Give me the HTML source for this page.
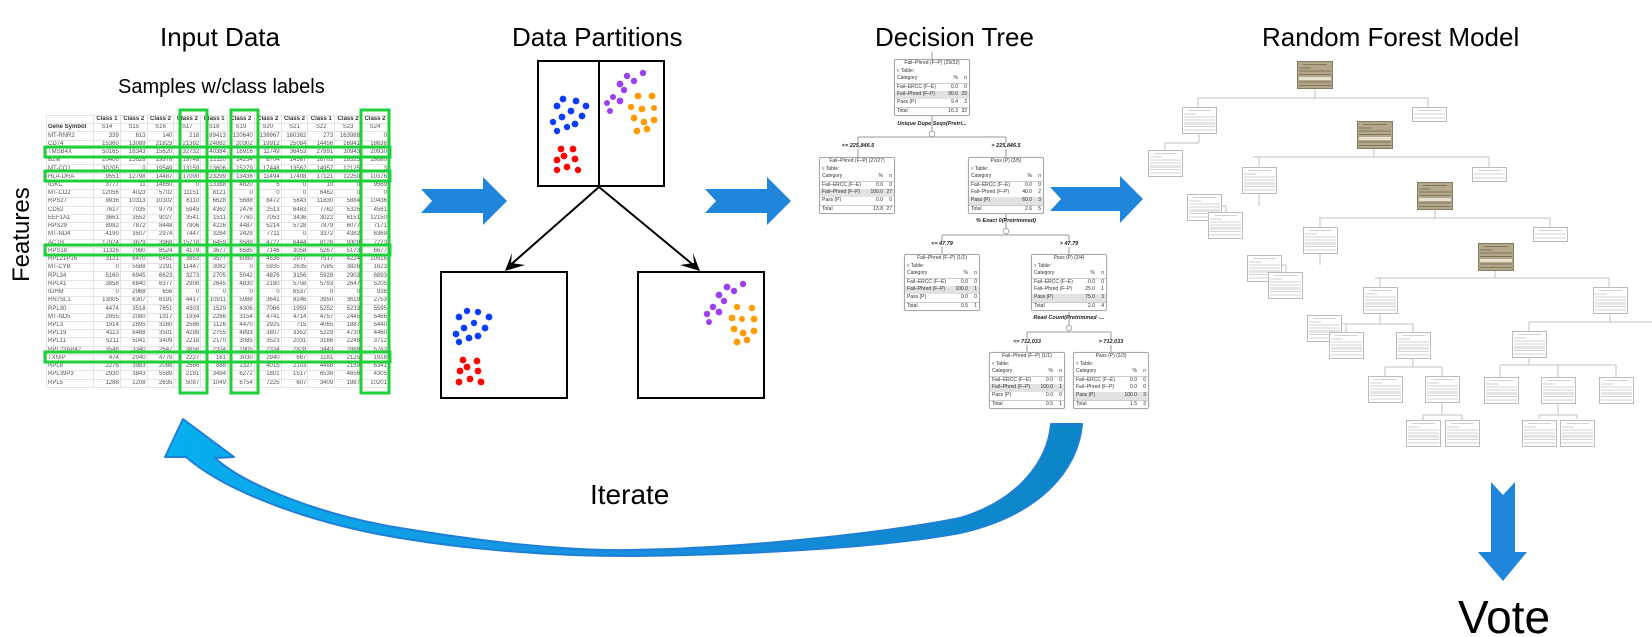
<!DOCTYPE html>
<html><head><meta charset="utf-8"><style>
html,body{margin:0;padding:0;background:#fff;}
#c{position:relative;width:1652px;height:637px;overflow:hidden;font-family:"Liberation Sans",Arial,sans-serif;}
.t{position:absolute;white-space:nowrap;color:#000;}
#tbl{position:absolute;left:46px;top:115px;width:342px;border-collapse:collapse;table-layout:fixed;font-size:6px;color:#555;}
#tbl td{height:7.24px;line-height:7px;padding:0 1px;border:1px solid #e4e4e4;text-align:right;overflow:hidden;white-space:nowrap;}
#tbl td:first-child{text-align:left;}
#tbl tr.h td{font-weight:bold;text-align:center;color:#333}
#tbl tr.h2 td{text-align:center;}
#tbl tr.h2 td:first-child{font-weight:bold;color:#333;text-align:left}
.n{position:absolute;width:74px;height:55px;border:1px solid #a8a8a8;border-radius:2px;background:#fff;font-size:5px;line-height:7.6px;color:#333;box-shadow:0 0 1px #ccc;}
.n div{position:relative;height:7.6px;padding:0 2px;}
.n .ti{text-align:center;}
.n .r span{position:absolute;right:2px;}
.n .r b{position:absolute;right:11px;font-weight:normal;}
.n .hl{background:#e2e2e2;}
.n .tt{border-top:1px solid #ccc;}
.lb{position:absolute;font-size:5.5px;font-weight:bold;font-style:italic;color:#222;white-space:nowrap;transform:translateX(-50%);}
</style></head><body><div id="c">

<div class="t" style="left:160px;top:22px;font-size:26px;">Input Data</div>
<div class="t" style="left:118px;top:76px;font-size:20px;">Samples w/class labels</div>
<div class="t" style="left:10px;top:233px;font-size:24px;transform:rotate(-90deg);transform-origin:center;width:70px;margin-left:-23px;">Features</div>
<div class="t" style="left:512px;top:22px;font-size:26px;">Data Partitions</div>
<div class="t" style="left:875px;top:22px;font-size:26px;">Decision Tree</div>
<div class="t" style="left:1262px;top:22px;font-size:26px;">Random Forest Model</div>
<div class="t" style="left:590px;top:479px;font-size:28px;">Iterate</div>

<table id="tbl">
<colgroup><col style="width:47px"><col style="width:26.8px"><col style="width:26.8px"><col style="width:26.8px"><col style="width:26.8px"><col style="width:26.8px"><col style="width:26.8px"><col style="width:26.8px"><col style="width:26.8px"><col style="width:26.8px"><col style="width:26.8px"><col style="width:27px"></colgroup>
<tr class="h"><td></td><td>Class 1</td><td>Class 2</td><td>Class 2</td><td>Class 2</td><td>Class 1</td><td>Class 2</td><td>Class 2</td><td>Class 2</td><td>Class 1</td><td>Class 2</td><td>Class 2</td></tr>
<tr class="h2"><td>Gene Symbol</td><td>S14</td><td>S15</td><td>S16</td><td>S17</td><td>S18</td><td>S19</td><td>S20</td><td>S21</td><td>S22</td><td>S23</td><td>S24</td></tr>
<tr><td>MT-RNR2</td><td>339</td><td>613</td><td>140</td><td>218</td><td>89413</td><td>120640</td><td>139967</td><td>160362</td><td>273</td><td>163988</td><td>0</td></tr>
<tr><td>CD74</td><td>15360</td><td>13089</td><td>21823</td><td>21392</td><td>24882</td><td>20302</td><td>19912</td><td>25084</td><td>14456</td><td>16941</td><td>18638</td></tr>
<tr><td>TMSB4X</td><td>50165</td><td>18343</td><td>15620</td><td>32732</td><td>40384</td><td>16916</td><td>11749</td><td>36453</td><td>27991</td><td>30943</td><td>20930</td></tr>
<tr><td>B2M</td><td>20406</td><td>15628</td><td>19978</td><td>19748</td><td>22110</td><td>14254</td><td>8704</td><td>14587</td><td>16703</td><td>19325</td><td>18680</td></tr>
<tr><td>MT-CO1</td><td>30205</td><td>0</td><td>19549</td><td>13159</td><td>13606</td><td>15279</td><td>17448</td><td>13562</td><td>14957</td><td>12125</td><td>3</td></tr>
<tr><td>HLA-DRA</td><td>9551</td><td>12798</td><td>14487</td><td>17090</td><td>23299</td><td>13436</td><td>11494</td><td>17408</td><td>17121</td><td>12250</td><td>10376</td></tr>
<tr><td>IGKC</td><td>3777</td><td>11</td><td>14850</td><td>0</td><td>13388</td><td>4820</td><td>5</td><td>0</td><td>10</td><td>0</td><td>9569</td></tr>
<tr><td>MT-CO2</td><td>12056</td><td>4023</td><td>5702</td><td>11151</td><td>8121</td><td>0</td><td>0</td><td>0</td><td>6462</td><td>0</td><td>0</td></tr>
<tr><td>RPS27</td><td>9936</td><td>10313</td><td>10302</td><td>6110</td><td>6628</td><td>5688</td><td>8472</td><td>5843</td><td>11830</td><td>5884</td><td>10436</td></tr>
<tr><td>CD52</td><td>7617</td><td>7035</td><td>9779</td><td>5945</td><td>4362</td><td>2476</td><td>2513</td><td>6463</td><td>7762</td><td>5325</td><td>4561</td></tr>
<tr><td>EEF1A1</td><td>3661</td><td>3552</td><td>9027</td><td>3541</td><td>1511</td><td>7760</td><td>7053</td><td>3436</td><td>3022</td><td>6151</td><td>12150</td></tr>
<tr><td>RPS29</td><td>8982</td><td>7872</td><td>8448</td><td>7906</td><td>4226</td><td>4487</td><td>5214</td><td>5728</td><td>7879</td><td>6077</td><td>7171</td></tr>
<tr><td>MT-ND4</td><td>4190</td><td>3507</td><td>2974</td><td>7447</td><td>3284</td><td>2429</td><td>7711</td><td>0</td><td>3372</td><td>4382</td><td>6369</td></tr>
<tr><td>ACTB</td><td>17824</td><td>3629</td><td>3968</td><td>15718</td><td>6459</td><td>8588</td><td>4727</td><td>6444</td><td>8128</td><td>9309</td><td>7223</td></tr>
<tr><td>RPS18</td><td>11326</td><td>7980</td><td>8524</td><td>4179</td><td>3677</td><td>6585</td><td>7146</td><td>3058</td><td>5267</td><td>5173</td><td>6677</td></tr>
<tr><td>RPL21P16</td><td>3121</td><td>6470</td><td>6451</td><td>3853</td><td>3577</td><td>6080</td><td>4536</td><td>2977</td><td>7517</td><td>4224</td><td>10916</td></tr>
<tr><td>MT-CYB</td><td>0</td><td>5588</td><td>2291</td><td>11447</td><td>3082</td><td>0</td><td>5935</td><td>2635</td><td>7585</td><td>3826</td><td>1623</td></tr>
<tr><td>RPL34</td><td>5160</td><td>6945</td><td>6623</td><td>3273</td><td>2705</td><td>5042</td><td>4876</td><td>3156</td><td>5928</td><td>2903</td><td>6893</td></tr>
<tr><td>RPL41</td><td>3858</td><td>6840</td><td>6377</td><td>2908</td><td>2645</td><td>4830</td><td>2180</td><td>5758</td><td>5793</td><td>2647</td><td>5205</td></tr>
<tr><td>IGHM</td><td>0</td><td>2968</td><td>656</td><td>0</td><td>0</td><td>0</td><td>0</td><td>6537</td><td>0</td><td>0</td><td>936</td></tr>
<tr><td>RN7SL1</td><td>13005</td><td>6307</td><td>6191</td><td>4417</td><td>10911</td><td>5988</td><td>3641</td><td>8246</td><td>3950</td><td>3619</td><td>2753</td></tr>
<tr><td>RPL30</td><td>4474</td><td>3518</td><td>7651</td><td>4303</td><td>1529</td><td>4306</td><td>7066</td><td>1959</td><td>5252</td><td>5233</td><td>5595</td></tr>
<tr><td>MT-ND5</td><td>2855</td><td>2080</td><td>1917</td><td>1934</td><td>2266</td><td>3154</td><td>4741</td><td>4714</td><td>4757</td><td>2445</td><td>5466</td></tr>
<tr><td>RPL3</td><td>1914</td><td>2895</td><td>3160</td><td>2586</td><td>1126</td><td>4470</td><td>2925</td><td>715</td><td>4065</td><td>1887</td><td>5440</td></tr>
<tr><td>RPL19</td><td>4113</td><td>6488</td><td>3501</td><td>4298</td><td>2755</td><td>4893</td><td>3807</td><td>3352</td><td>5229</td><td>4730</td><td>4460</td></tr>
<tr><td>RPL11</td><td>5211</td><td>5041</td><td>3409</td><td>2218</td><td>2170</td><td>3085</td><td>3523</td><td>2031</td><td>3166</td><td>2246</td><td>3712</td></tr>
<tr><td>RPL23AP42</td><td>3548</td><td>3340</td><td>2647</td><td>3856</td><td>2334</td><td>1905</td><td>2334</td><td>2828</td><td>3443</td><td>2888</td><td>5763</td></tr>
<tr><td>TXNIP</td><td>474</td><td>2040</td><td>4779</td><td>2227</td><td>161</td><td>3030</td><td>2940</td><td>667</td><td>1181</td><td>2125</td><td>1918</td></tr>
<tr><td>RPL8</td><td>2276</td><td>3983</td><td>2088</td><td>2566</td><td>888</td><td>1327</td><td>4015</td><td>2103</td><td>4488</td><td>2159</td><td>6341</td></tr>
<tr><td>RPL39P3</td><td>2930</td><td>3843</td><td>5589</td><td>2181</td><td>3494</td><td>6272</td><td>1801</td><td>1517</td><td>6538</td><td>4656</td><td>4305</td></tr>
<tr><td>RPL5</td><td>1288</td><td>1208</td><td>2635</td><td>5087</td><td>1049</td><td>6754</td><td>7225</td><td>607</td><td>3409</td><td>1987</td><td>10201</td></tr>
</table>

<svg width="1652" height="637" style="position:absolute;left:0;top:0" xmlns="http://www.w3.org/2000/svg">
<defs>
<linearGradient id="ag" x1="0" y1="0" x2="1" y2="0"><stop offset="0" stop-color="#06b0ee"/><stop offset="0.5" stop-color="#1a8ee0"/><stop offset="1" stop-color="#0a86c6"/></linearGradient>
<g id="fb"><rect x="0.5" y="0.5" width="34" height="26" fill="#fff" stroke="#bbb"/><rect x="2" y="15" width="31" height="3" fill="#e4e4e4"/><g stroke="#c4c4c4" stroke-width="0.8"><line x1="6" y1="3.5" x2="29" y2="3.5"/><line x1="2" y1="7" x2="14" y2="7"/><line x1="2" y1="10" x2="33" y2="10"/><line x1="2" y1="13" x2="33" y2="13"/><line x1="2" y1="19.5" x2="33" y2="19.5"/><line x1="2" y1="23" x2="33" y2="23"/></g></g>
<g id="fs"><rect x="0.5" y="0.5" width="34" height="14" fill="#fff" stroke="#bbb"/><g stroke="#c4c4c4" stroke-width="0.8"><line x1="6" y1="3.5" x2="29" y2="3.5"/><line x1="2" y1="7" x2="33" y2="7"/><line x1="2" y1="11" x2="33" y2="11"/></g></g>
<g id="ft"><rect x="0.5" y="0.5" width="35" height="27" fill="#b4a88a" stroke="#857a62"/><rect x="2" y="16" width="32" height="3" fill="#e6e1d2"/><g stroke="#6f6652" stroke-width="0.8"><line x1="6" y1="3.5" x2="30" y2="3.5"/><line x1="2" y1="7" x2="14" y2="7"/><line x1="2" y1="10" x2="34" y2="10"/><line x1="2" y1="13.5" x2="34" y2="13.5"/><line x1="2" y1="21" x2="34" y2="21"/><line x1="2" y1="24.5" x2="34" y2="24.5"/></g></g>
</defs>

<!-- green highlights -->
<g fill="none" stroke="#1ed03a" stroke-width="3">
<rect x="180" y="110" width="27" height="283"/>
<rect x="231" y="110" width="27" height="283"/>
<rect x="361" y="110" width="28" height="283"/>
<rect x="45" y="147" width="345" height="10"/>
<rect x="45" y="171" width="345" height="10"/>
<rect x="45" y="245" width="345" height="10"/>
<rect x="45" y="352" width="345" height="10"/>
</g>

<!-- blue chevron arrows -->
<g fill="#1f86dc">
<polygon points="421,189 483,189 483,177 507,201 483,225 483,213 421,213 432,201"/>
<polygon points="705,189 767,189 767,177 791,201 767,225 767,213 705,213 716,201"/>
<polygon points="1050,187 1120,187 1120,176 1143,199 1120,223 1120,211 1050,211 1061,199"/>
<polygon points="1491,482 1503,495 1515,482 1515,552 1527,552 1503,581 1478,552 1491,552"/>
</g>

<!-- partitions -->
<g fill="none" stroke="#000" stroke-width="2">
<rect x="538" y="61" width="126" height="125"/>
<line x1="599" y1="61" x2="599" y2="186"/>
<rect x="441" y="272" width="126" height="126"/>
<rect x="638" y="272" width="126" height="126"/>
<line x1="599" y1="187" x2="507" y2="268"/>
<line x1="599" y1="187" x2="697" y2="268"/>
</g>
<polygon points="505,271 512,253 511,263 525,265" fill="#000"/>
<polygon points="700,271 693,253 694,263 680,265" fill="#000"/>
<g fill="#0a3cff">
<circle cx="563" cy="99" r="3.4"/><circle cx="576" cy="101" r="3.4"/><circle cx="586" cy="106" r="3.4"/><circle cx="557" cy="106" r="3.4"/><circle cx="571" cy="111" r="3.4"/><circle cx="562" cy="117" r="3.4"/><circle cx="582" cy="116" r="3.4"/><circle cx="553" cy="122" r="3.2"/><circle cx="575" cy="124" r="3.4"/><circle cx="567" cy="127" r="3.2"/><circle cx="557" cy="131" r="3.2"/>
<circle cx="459" cy="317" r="3.4"/><circle cx="467" cy="311" r="3.2"/><circle cx="478" cy="312" r="3.2"/><circle cx="489" cy="317" r="3.4"/><circle cx="464" cy="328" r="3.4"/><circle cx="474" cy="323" r="3.2"/><circle cx="485" cy="328" r="3.4"/><circle cx="456" cy="334" r="3.4"/><circle cx="469" cy="338" r="3.4"/><circle cx="478" cy="336" r="3.4"/><circle cx="459" cy="342" r="3.2"/>
</g>
<g fill="#ff0000">
<circle cx="561" cy="149" r="3.4"/><circle cx="573" cy="149" r="3.4"/><circle cx="564" cy="156" r="3.4"/><circle cx="557" cy="160" r="3.4"/><circle cx="575" cy="159" r="3.4"/><circle cx="567" cy="167" r="3.4"/><circle cx="557" cy="170" r="3.2"/><circle cx="578" cy="170" r="3.2"/>
<circle cx="463" cy="360" r="3.4"/><circle cx="477" cy="361" r="3.4"/><circle cx="467" cy="367" r="3.4"/><circle cx="460" cy="371" r="3.4"/><circle cx="478" cy="371" r="3.4"/><circle cx="470" cy="379" r="3.4"/><circle cx="459" cy="382" r="3.4"/><circle cx="481" cy="382" r="3.4"/>
</g>
<g fill="#9b40f0">
<circle cx="627" cy="76" r="3.2"/><circle cx="643" cy="73" r="3.2"/><circle cx="634" cy="81" r="3.2"/><circle cx="620" cy="84" r="3.4"/><circle cx="624" cy="90" r="3.2"/><circle cx="613" cy="97" r="3"/><circle cx="620" cy="101" r="3.4"/><circle cx="607" cy="103" r="3"/><circle cx="610" cy="111" r="3"/>
<circle cx="727" cy="287" r="3.4"/><circle cx="743" cy="284" r="3.2"/><circle cx="734" cy="291" r="3.2"/><circle cx="719" cy="295" r="3.4"/><circle cx="724" cy="301" r="3.2"/><circle cx="713" cy="307" r="3.2"/><circle cx="719" cy="312" r="3.4"/><circle cx="707" cy="314" r="3.2"/><circle cx="709" cy="322" r="3"/>
</g>
<g fill="#ff9a00">
<circle cx="638" cy="96" r="3.4"/><circle cx="652" cy="96" r="3.4"/><circle cx="631" cy="107" r="3.2"/><circle cx="642" cy="109" r="3.4"/><circle cx="654" cy="108" r="3"/><circle cx="634" cy="118" r="3.4"/><circle cx="644" cy="122" r="3.4"/><circle cx="654" cy="120" r="3.4"/><circle cx="637" cy="131" r="3.4"/><circle cx="647" cy="129" r="3.4"/>
<circle cx="737" cy="307" r="3.2"/><circle cx="752" cy="308" r="3.2"/><circle cx="732" cy="318" r="3.4"/><circle cx="742" cy="319" r="3"/><circle cx="754" cy="319" r="3.4"/><circle cx="734" cy="329" r="3.4"/><circle cx="743" cy="333" r="3.4"/><circle cx="754" cy="331" r="3.4"/><circle cx="737" cy="342" r="3.4"/><circle cx="747" cy="340" r="3.4"/>
</g>

<!-- decision tree connectors -->
<g stroke="#9a9a9a" stroke-width="1" fill="none">
<line x1="932" y1="52" x2="932" y2="59"/>
<line x1="932" y1="116" x2="932" y2="137"/><line x1="858" y1="137" x2="1006" y2="137"/>
<line x1="858" y1="137" x2="858" y2="157"/><line x1="1006" y1="137" x2="1006" y2="157"/>
<line x1="1006" y1="214" x2="1006" y2="235"/><line x1="942" y1="235" x2="1069" y2="235"/>
<line x1="942" y1="235" x2="942" y2="254"/><line x1="1069" y1="235" x2="1069" y2="254"/>
<line x1="1069" y1="312" x2="1069" y2="332"/><line x1="1027" y1="332" x2="1111" y2="332"/>
<line x1="1027" y1="332" x2="1027" y2="352"/><line x1="1111" y1="332" x2="1111" y2="352"/>
</g>
<g fill="#fff" stroke="#999" stroke-width="0.8">
<circle cx="932" cy="134" r="2.8"/><circle cx="1006" cy="231" r="2.8"/><circle cx="1069" cy="328" r="2.8"/>
</g>

<!-- forest connectors -->
<g stroke="#c2c2c2" stroke-width="1" fill="none">
<line x1="1315" y1="88" x2="1315" y2="98"/><line x1="1198" y1="98" x2="1428" y2="98"/><line x1="1198" y1="98" x2="1198" y2="107"/><line x1="1428" y1="98" x2="1428" y2="107"/>
<line x1="1199" y1="133" x2="1199" y2="143"/><line x1="1165" y1="143" x2="1199" y2="143"/><line x1="1165" y1="143" x2="1165" y2="150"/>
<line x1="1374" y1="148" x2="1374" y2="157"/><line x1="1253" y1="157" x2="1489" y2="157"/><line x1="1259" y1="157" x2="1259" y2="167"/><line x1="1489" y1="157" x2="1489" y2="167"/>
<line x1="1259" y1="193" x2="1259" y2="206"/><line x1="1197" y1="206" x2="1226" y2="206"/><line x1="1226" y1="206" x2="1226" y2="212"/>
<line x1="1435" y1="209" x2="1435" y2="218"/><line x1="1319" y1="218" x2="1550" y2="218"/><line x1="1320" y1="218" x2="1320" y2="227"/><line x1="1550" y1="218" x2="1550" y2="227"/>
<line x1="1320" y1="253" x2="1320" y2="265"/><line x1="1257" y1="265" x2="1286" y2="265"/><line x1="1286" y1="265" x2="1286" y2="272"/>
<line x1="1495" y1="269" x2="1495" y2="278"/><line x1="1375" y1="278" x2="1609" y2="278"/><line x1="1380" y1="278" x2="1380" y2="287"/><line x1="1609" y1="278" x2="1609" y2="287"/>
<line x1="1380" y1="313" x2="1380" y2="324"/><line x1="1318" y1="324" x2="1413" y2="324"/><line x1="1346" y1="324" x2="1346" y2="332"/><line x1="1413" y1="324" x2="1413" y2="332"/>
<line x1="1610" y1="313" x2="1610" y2="322"/><line x1="1529" y1="322" x2="1652" y2="322"/><line x1="1529" y1="322" x2="1529" y2="331"/>
<line x1="1413" y1="358" x2="1413" y2="367"/><line x1="1385" y1="367" x2="1442" y2="367"/><line x1="1385" y1="367" x2="1385" y2="376"/><line x1="1442" y1="367" x2="1442" y2="376"/>
<line x1="1529" y1="358" x2="1529" y2="365"/><line x1="1500" y1="365" x2="1616" y2="365"/><line x1="1500" y1="365" x2="1500" y2="377"/><line x1="1558" y1="365" x2="1558" y2="377"/><line x1="1616" y1="365" x2="1616" y2="377"/>
<line x1="1442" y1="403" x2="1442" y2="415"/><line x1="1423" y1="415" x2="1462" y2="415"/><line x1="1423" y1="415" x2="1423" y2="420"/><line x1="1462" y1="415" x2="1462" y2="420"/>
<line x1="1558" y1="403" x2="1558" y2="415"/><line x1="1539" y1="415" x2="1577" y2="415"/><line x1="1539" y1="415" x2="1539" y2="419"/><line x1="1577" y1="415" x2="1577" y2="419"/>
</g>
<g>
<use href="#ft" x="1297" y="61"/><use href="#ft" x="1357" y="121"/><use href="#ft" x="1417" y="182"/><use href="#ft" x="1478" y="243"/>
<use href="#fs" x="1412" y="107"/><use href="#fs" x="1472" y="167"/><use href="#fs" x="1533" y="227"/>
<use href="#fb" x="1182" y="107"/><use href="#fb" x="1148" y="150"/><use href="#fb" x="1242" y="167"/><use href="#fb" x="1187" y="194"/><use href="#fb" x="1208" y="212"/>
<use href="#fb" x="1303" y="227"/><use href="#fb" x="1247" y="255"/><use href="#fb" x="1268" y="272"/>
<use href="#fb" x="1363" y="287"/><use href="#fb" x="1593" y="287"/><use href="#fb" x="1307" y="315"/><use href="#fb" x="1329" y="332"/><use href="#fb" x="1396" y="332"/><use href="#fb" x="1512" y="331"/>
<use href="#fb" x="1368" y="376"/><use href="#fb" x="1425" y="376"/><use href="#fb" x="1484" y="377"/><use href="#fb" x="1541" y="377"/><use href="#fb" x="1599" y="377"/>
<use href="#fb" x="1406" y="420"/><use href="#fb" x="1445" y="420"/><use href="#fb" x="1522" y="420"/><use href="#fb" x="1560" y="420"/>
</g>

<!-- iterate arrow -->
<path d="M183,419 L234,457 L215,458 C245,485 320,515 400,528 C480,541 560,551 630,550 C760,548 900,530 960,518 C1020,500 1048,460 1051,424 L1082,424 C1078,470 1040,515 960,533 C880,548 740,555 630,556 C540,556 460,548 400,538 C320,525 230,495 186,457 L165,457 Z" fill="url(#ag)" stroke="#1e7fd6" stroke-width="2" stroke-linejoin="round"/>

<text x="1458" y="633" font-family="Liberation Sans, Arial, sans-serif" font-size="46" fill="#000">Vote</text>
</svg>

<!-- decision tree nodes -->
<div class="n" style="left:894px;top:59px;"><div class="ti">Fail–Phred (F–P) (29/32)</div><div>&#9663; Table:</div><div class="r">Category<b>%</b><span>n</span></div><div class="r tt">Fail–ERCC (F–E)<b>0.0</b><span>0</span></div><div class="r hl">Fail–Phred (F–P)<b>90.6</b><span>29</span></div><div class="r">Pass (P)<b>9.4</b><span>3</span></div><div class="r tt">Total<b>16.3</b><span>32</span></div></div>
<div class="n" style="left:819px;top:157px;"><div class="ti">Fail–Phred (F–P) (27/27)</div><div>&#9663; Table:</div><div class="r">Category<b>%</b><span>n</span></div><div class="r tt">Fail–ERCC (F–E)<b>0.0</b><span>0</span></div><div class="r hl">Fail–Phred (F–P)<b>100.0</b><span>27</span></div><div class="r">Pass (P)<b>0.0</b><span>0</span></div><div class="r tt">Total<b>13.8</b><span>27</span></div></div>
<div class="n" style="left:968px;top:157px;"><div class="ti">Pass (P) (3/5)</div><div>&#9663; Table:</div><div class="r">Category<b>%</b><span>n</span></div><div class="r tt">Fail–ERCC (F–E)<b>0.0</b><span>0</span></div><div class="r">Fail–Phred (F–P)<b>40.0</b><span>2</span></div><div class="r hl">Pass (P)<b>60.0</b><span>3</span></div><div class="r tt">Total<b>2.6</b><span>5</span></div></div>
<div class="n" style="left:904px;top:254px;"><div class="ti">Fail–Phred (F–P) (1/1)</div><div>&#9663; Table:</div><div class="r">Category<b>%</b><span>n</span></div><div class="r tt">Fail–ERCC (F–E)<b>0.0</b><span>0</span></div><div class="r hl">Fail–Phred (F–P)<b>100.0</b><span>1</span></div><div class="r">Pass (P)<b>0.0</b><span>0</span></div><div class="r tt">Total<b>0.5</b><span>1</span></div></div>
<div class="n" style="left:1031px;top:254px;"><div class="ti">Pass (P) (3/4)</div><div>&#9663; Table:</div><div class="r">Category<b>%</b><span>n</span></div><div class="r tt">Fail–ERCC (F–E)<b>0.0</b><span>0</span></div><div class="r">Fail–Phred (F–P)<b>25.0</b><span>1</span></div><div class="r hl">Pass (P)<b>75.0</b><span>3</span></div><div class="r tt">Total<b>2.0</b><span>4</span></div></div>
<div class="n" style="left:989px;top:352px;"><div class="ti">Fail–Phred (F–P) (1/1)</div><div>&#9663; Table:</div><div class="r">Category<b>%</b><span>n</span></div><div class="r tt">Fail–ERCC (F–E)<b>0.0</b><span>0</span></div><div class="r hl">Fail–Phred (F–P)<b>100.0</b><span>1</span></div><div class="r">Pass (P)<b>0.0</b><span>0</span></div><div class="r tt">Total<b>0.5</b><span>1</span></div></div>
<div class="n" style="left:1073px;top:352px;"><div class="ti">Pass (P) (3/3)</div><div>&#9663; Table:</div><div class="r">Category<b>%</b><span>n</span></div><div class="r tt">Fail–ERCC (F–E)<b>0.0</b><span>0</span></div><div class="r">Fail–Phred (F–P)<b>0.0</b><span>0</span></div><div class="r hl">Pass (P)<b>100.0</b><span>3</span></div><div class="r tt">Total<b>1.5</b><span>3</span></div></div>

<div class="lb" style="left:932px;top:121px;">Unique Dupe Seqs(Pretri...</div>
<div class="lb" style="left:858px;top:143px;background:#fff;">&lt;= 225,846.5</div>
<div class="lb" style="left:1006px;top:143px;background:#fff;">&gt; 225,846.5</div>
<div class="lb" style="left:1006px;top:218px;">% Exact 0(Pretrimmed)</div>
<div class="lb" style="left:942px;top:241px;background:#fff;">&lt;= 47.79</div>
<div class="lb" style="left:1069px;top:241px;background:#fff;">&gt; 47.79</div>
<div class="lb" style="left:1069px;top:315px;">Read Count(Pretrimmed -...</div>
<div class="lb" style="left:1027px;top:339px;background:#fff;">&lt;= 712,033</div>
<div class="lb" style="left:1111px;top:339px;background:#fff;">&gt; 712,033</div>

</div></body></html>
